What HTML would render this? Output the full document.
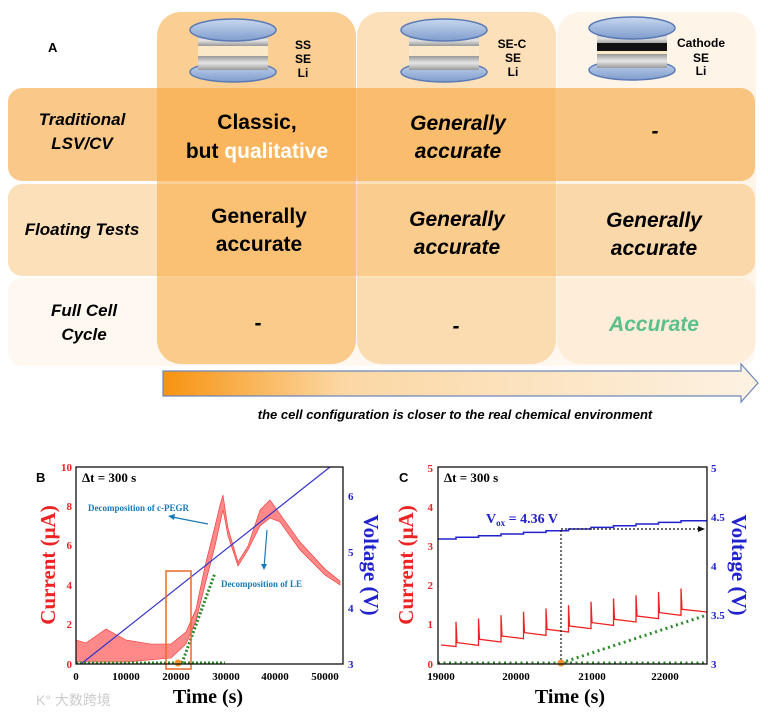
<!DOCTYPE html>
<html><head><meta charset="utf-8"><style>
body{margin:0;background:#fff;width:768px;height:715px;overflow:hidden}
svg{display:block}
.s{font-family:"Liberation Sans",sans-serif;font-weight:bold}
.t{font-family:"Liberation Serif",serif;font-weight:bold}
</style></head><body>
<svg width="768" height="715" viewBox="0 0 768 715" xmlns="http://www.w3.org/2000/svg">
<defs>
<linearGradient id="ar" x1="0" x2="1"><stop offset="0" stop-color="#f7930f"/><stop offset="0.3" stop-color="#fbd7a3"/><stop offset="1" stop-color="#fdf2e3"/></linearGradient>
<linearGradient id="cap" x1="0" y1="0" x2="0" y2="1"><stop offset="0" stop-color="#c8d8f0"/><stop offset="1" stop-color="#7f9ccc"/></linearGradient>
<linearGradient id="gr" x1="0" y1="0" x2="0" y2="1"><stop offset="0" stop-color="#999"/><stop offset="0.5" stop-color="#e6e6e6"/><stop offset="1" stop-color="#999"/></linearGradient>
<g id="coin">
<ellipse cx="0" cy="72" rx="43" ry="10" fill="url(#cap)" stroke="#5a7ab5" stroke-width="1.5"/>
<rect x="-35" y="56" width="70" height="14" fill="url(#gr)"/>
<rect x="-35" y="46" width="70" height="10" fill="#fbe8c8"/>
<rect x="-35" y="34" width="70" height="12" fill="url(#gr)"/>
<ellipse cx="0" cy="30" rx="43" ry="11" fill="url(#cap)" stroke="#5a7ab5" stroke-width="1.5"/>
</g>
</defs>
<rect x="8" y="88" width="747" height="93" rx="14" fill="#f7a53a" fill-opacity="0.6"/>
<rect x="8" y="184" width="747" height="92" rx="14" fill="#f7a53a" fill-opacity="0.35"/>
<rect x="8" y="278" width="747" height="88" rx="14" fill="#f7a53a" fill-opacity="0.08"/>
<rect x="157" y="12" width="199" height="352" rx="24" fill="#f7a53a" fill-opacity="0.55"/>
<rect x="357" y="12" width="199" height="352" rx="24" fill="#f7a53a" fill-opacity="0.35"/>
<rect x="557" y="12" width="199" height="352" rx="24" fill="#f7a53a" fill-opacity="0.12"/>
<text x="48" y="52" class="s" font-size="13">A</text>
<use href="#coin" x="233" y="0"/>
<use href="#coin" x="444" y="0"/>
<use href="#coin" x="632" y="-2"/>
<rect x="597" y="43" width="70" height="8" fill="#111"/>
<text class="s" font-size="12" text-anchor="middle" x="303" y="49">SS</text>
<text class="s" font-size="12" text-anchor="middle" x="303" y="63">SE</text>
<text class="s" font-size="12" text-anchor="middle" x="303" y="77">Li</text>
<text class="s" font-size="12" text-anchor="middle" x="512" y="48">SE-C</text>
<text class="s" font-size="12" text-anchor="middle" x="513" y="62">SE</text>
<text class="s" font-size="12" text-anchor="middle" x="513" y="76">Li</text>
<text class="s" font-size="12" text-anchor="middle" x="701" y="47">Cathode</text>
<text class="s" font-size="12" text-anchor="middle" x="701" y="62">SE</text>
<text class="s" font-size="12" text-anchor="middle" x="701" y="75">Li</text>
<g class="s" font-style="italic" font-size="17" text-anchor="middle">
<text x="82" y="125">Traditional</text><text x="82" y="149">LSV/CV</text>
<text x="82" y="235">Floating Tests</text>
<text x="84" y="316">Full Cell</text><text x="84" y="340">Cycle</text>
</g>
<g class="s" font-size="21" text-anchor="middle">
<text x="257" y="129">Classic,</text>
<text x="257" y="158">but <tspan fill="#fff">qualitative</tspan></text>
<text x="259" y="223">Generally</text><text x="259" y="251">accurate</text>
<text x="258" y="330">-</text>
</g>
<g class="s" font-size="21" text-anchor="middle" font-style="italic">
<text x="458" y="130">Generally</text><text x="458" y="158">accurate</text>
<text x="457" y="226">Generally</text><text x="457" y="254">accurate</text>
<text x="456" y="333">-</text>
<text x="655" y="138">-</text>
<text x="654" y="227">Generally</text><text x="654" y="255">accurate</text>
<text x="654" y="331" fill="#5cc08a">Accurate</text>
</g>
<path d="M163,371 H741 V364 L758,383 L741,402 V396 H163 Z" fill="url(#ar)" stroke="#6d86b8" stroke-width="1.2"/>
<text x="455" y="419" class="s" font-style="italic" font-size="13" text-anchor="middle">the cell configuration is closer to the real chemical environment</text>

<text x="36" y="482" class="s" font-size="13">B</text>
<g fill="#f55" stroke="#e33" stroke-width="0.6" fill-opacity="0.7">
<path d="M76,640 L86,643 L106,629 L126,640 L151,644 L171,644 L186,632 L196,609 L205,566 L215,526 L220,505 L223,495 L228,528 L238,562 L248,546 L260,510 L270,500 L280,514 L300,542 L325,569 L340,581 L340,585 L325,575 L300,550 L280,522 L270,518 L260,526 L248,550 L238,566 L228,536 L223,510 L215,546 L205,585 L196,621 L186,644 L171,658 L126,662 L76,662 Z"/>
</g>
<line x1="81" y1="664" x2="330" y2="467" stroke="#3333cc" stroke-width="1.2"/>
<line x1="76" y1="663" x2="225" y2="663" stroke="#2a8a2a" stroke-width="3" stroke-dasharray="2,2"/>
<line x1="182" y1="663" x2="215" y2="573" stroke="#2a8a2a" stroke-width="3" stroke-dasharray="2,2"/>
<rect x="166" y="571" width="25" height="98" fill="none" stroke="#e86a2a" stroke-width="1.5"/>
<circle cx="178" cy="663" r="3.5" fill="#f0902a"/>
<rect x="76" y="467" width="267" height="197" fill="none" stroke="#111" stroke-width="1.3"/>
<g class="t" font-size="11" fill="#e22" text-anchor="end">
<text x="72" y="471">10</text><text x="72" y="510">8</text><text x="72" y="549">6</text><text x="72" y="589">4</text><text x="72" y="628">2</text><text x="72" y="668">0</text></g>
<g class="t" font-size="11" fill="#22c"><text x="348" y="500">6</text><text x="348" y="556">5</text><text x="348" y="612">4</text><text x="348" y="668">3</text></g>
<g class="t" font-size="11" text-anchor="middle"><text x="76" y="680">0</text><text x="126" y="680">10000</text><text x="176" y="680">20000</text><text x="226" y="680">30000</text><text x="275" y="680">40000</text><text x="325" y="680">50000</text></g>
<text x="82" y="482" class="t" font-size="13">Δt = 300 s</text>
<text x="88" y="511" class="t" font-size="9" fill="#1a7ab8">Decomposition of c-PEGR</text>
<line x1="208" y1="524" x2="172" y2="517" stroke="#1a7ab8" stroke-width="1.2"/>
<path d="M168,516 L175,514 L174,520Z" fill="#1a7ab8"/>
<text x="221" y="587" class="t" font-size="9" fill="#1a7ab8">Decomposition of LE</text>
<line x1="267" y1="530" x2="264" y2="568" stroke="#1a7ab8" stroke-width="1.2"/>
<path d="M261,564 L267,564 L264,570Z" fill="#1a7ab8"/>
<text transform="translate(55,565) rotate(-90)" class="t" font-size="21" fill="#e22" text-anchor="middle">Current (μA)</text>
<text transform="translate(364,565) rotate(90)" class="t" font-size="21" fill="#22c" text-anchor="middle">Voltage (V)</text>
<text x="208" y="703" class="t" font-size="20" text-anchor="middle">Time (s)</text>

<text x="399" y="482" class="s" font-size="13">C</text>
<path d="M441,645 L456,646.5 L456,621.8 L457,642.6 L478.5,645.4 L478.5,618.5 L479.5,639.3 L501,642 L501,615.2 L502,636 L523.5,638.7 L523.5,611.8 L524.5,632.6 L546,635.4 L546,608.5 L547,629.3 L568.5,632 L568.5,605.2 L569.5,626 L591,628.7 L591,601.8 L592,622.6 L613.5,625.4 L613.5,598.5 L614.5,619.3 L636,622 L636,595.2 L637,616 L658.5,618.7 L658.5,591.9 L659.5,612.6 L681,615.4 L681,588.5 L682,609.3 L707,612" fill="none" stroke="#e22" stroke-width="1.3"/>
<path d="M438,539 H456 V537.3 H478.5 V535.7 H501 V534 H523.5 V532.4 H546 V530.7 H568.5 V529 H591 V527.4 H613.5 V525.7 H636 V524 H658.5 V522.4 H681 V520.7 H707" fill="none" stroke="#22c" stroke-width="1.5"/>
<line x1="561" y1="530" x2="561" y2="663" stroke="#111" stroke-width="1.2" stroke-dasharray="2,2"/>
<line x1="561" y1="529" x2="700" y2="529" stroke="#111" stroke-width="1.2" stroke-dasharray="2,2"/>
<path d="M698,526 L705,529 L698,532Z" fill="#111"/>
<line x1="438" y1="663" x2="707" y2="663" stroke="#2a8a2a" stroke-width="3" stroke-dasharray="2,3.5"/>
<line x1="561" y1="663" x2="707" y2="615" stroke="#2a8a2a" stroke-width="3" stroke-dasharray="2,3.5"/>
<circle cx="561" cy="663" r="3.5" fill="#f0902a"/>
<rect x="438" y="467" width="269" height="197" fill="none" stroke="#111" stroke-width="1.3"/>
<g class="t" font-size="11" fill="#e22" text-anchor="end"><text x="433" y="472">5</text><text x="433" y="511">4</text><text x="433" y="550">3</text><text x="433" y="589">2</text><text x="433" y="628">1</text><text x="433" y="668">0</text></g>
<g class="t" font-size="11" fill="#22c"><text x="711" y="472">5</text><text x="711" y="521">4.5</text><text x="711" y="570">4</text><text x="711" y="619">3.5</text><text x="711" y="668">3</text></g>
<g class="t" font-size="11" text-anchor="middle"><text x="441" y="680">19000</text><text x="516" y="680">20000</text><text x="592" y="680">21000</text><text x="665" y="680">22000</text></g>
<text x="444" y="482" class="t" font-size="13">Δt = 300 s</text>
<text x="522" y="523" class="t" font-size="14" fill="#22c" text-anchor="middle">V<tspan font-size="9" dy="3">ox</tspan><tspan dy="-3"> = 4.36 V</tspan></text>
<text transform="translate(413,565) rotate(-90)" class="t" font-size="21" fill="#e22" text-anchor="middle">Current (μA)</text>
<text transform="translate(732,565) rotate(90)" class="t" font-size="21" fill="#22c" text-anchor="middle">Voltage (V)</text>
<text x="570" y="703" class="t" font-size="20" text-anchor="middle">Time (s)</text>
<text x="36" y="705" font-family="'Liberation Sans','Noto Sans CJK SC',sans-serif" font-size="14" fill="#ccc">K° 大数跨境</text>
</svg>
</body></html>
